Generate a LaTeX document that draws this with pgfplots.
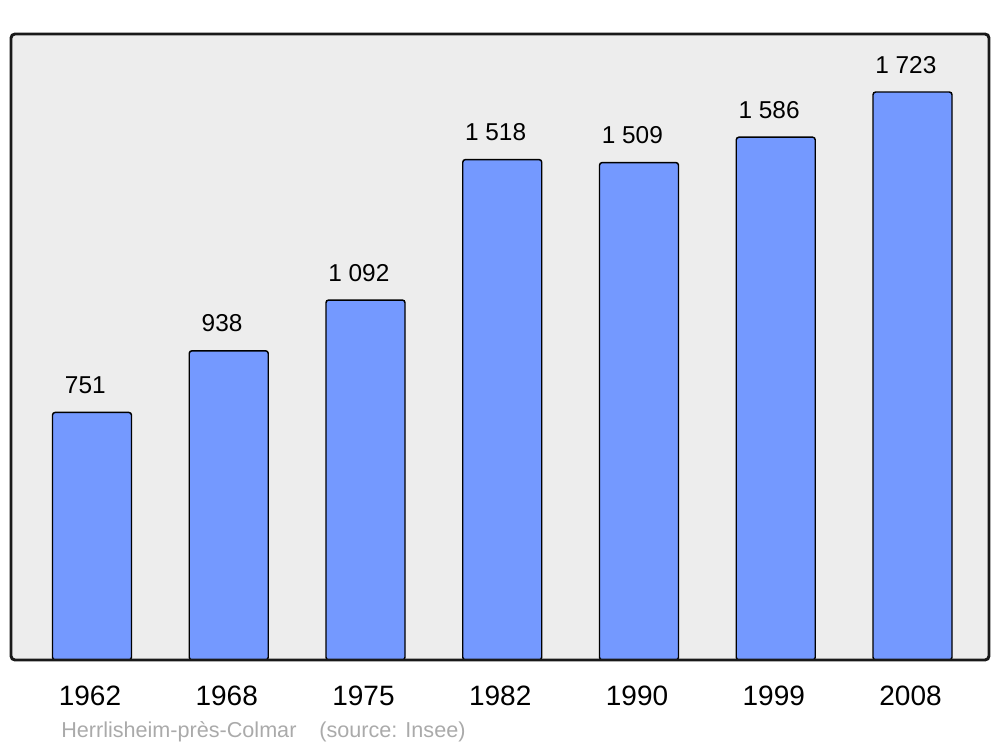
\documentclass[border=0pt]{standalone}
\usepackage{pgfplots}
\pgfplotsset{compat=1.18}
\usepackage{fontspec}
\setmainfont{Liberation Sans}
\definecolor{barblue}{RGB}{116,153,255}
\definecolor{bg}{RGB}{237,237,237}
\definecolor{src}{RGB}{170,170,170}
\begin{document}
\begin{tikzpicture}
\begin{axis}[
 scale only axis, width=733.5pt, height=469.5pt,
 xmin=-0.5923, xmax=6.5594, ymin=0, ymax=1899,
 axis line style={draw=none},
 axis background/.style={fill=bg, rounded corners=3pt},
 ytick=\empty,
 xtick={0,...,6}, xticklabels={1962,1968,1975,1982,1990,1999,2008},
 major tick length=0pt,
 xticklabel style={font=\fontsize{21}{21}\selectfont, anchor=base, yshift=-33.75pt, xshift=-1.5pt},
 clip=false,
]
\addplot[ybar, bar width=59.25pt, fill=barblue, draw=black, line width=1.1pt, rounded corners=2pt,
 point meta=explicit symbolic,
 nodes near coords,
 nodes near coords align={anchor=base},
 every node near coord/.style={font=\fontsize{18.3}{18.3}\selectfont, anchor=base, yshift=14.25pt, xshift=-5pt, text=black, draw=none, fill=none}]
 coordinates {(0,751) [751] (1,938) [938] (2,1092) [1 092] (3,1518) [1 518] (4,1509) [1 509] (5,1586) [1 586] (6,1723) [1 723]};
\coordinate (bl) at (rel axis cs:0,0);
\coordinate (tr) at (rel axis cs:1,1);
\draw[line width=2.2pt, rounded corners=3pt, color=black!90] (rel axis cs:0,0) rectangle (rel axis cs:1,1);
\end{axis}
\node[anchor=base west, inner sep=0pt, text=src, font=\fontsize{16.2}{16.2}\selectfont] at ([shift={(37.5pt,-57.75pt)}]bl) {Herrlisheim-près-Colmar\hspace{17.25pt}(source: Insee)};
\path[use as bounding box] ([shift={(-8.25pt,-65.25pt)}]bl) rectangle ([shift={(8.25pt,25.5pt)}]tr);
\end{tikzpicture}
\end{document}
